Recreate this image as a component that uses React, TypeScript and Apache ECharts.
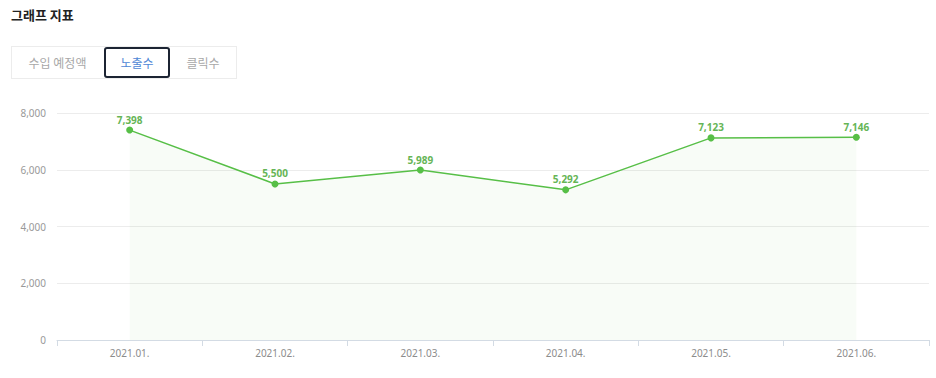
import React, { useEffect, useRef } from "react";
import * as echarts from "echarts";

const categories = ["2021.01.", "2021.02.", "2021.03.", "2021.04.", "2021.05.", "2021.06."];
const impressions = [7398, 5500, 5989, 5292, 7123, 7146];
const yTicks = { min: 0, max: 8000, interval: 2000 };
const tabs = ["수입 예정액", "노출수", "클릭수"];
const activeTab = 1;

const FONT = "'Noto Sans CJK KR', 'Noto Sans', sans-serif";

export default function App() {
  const ref = useRef<HTMLDivElement>(null);
  useEffect(() => {
    if (!ref.current) return;
    const chart = echarts.init(ref.current, undefined, { renderer: "svg" });
    chart.setOption({
      animation: false,
      textStyle: { fontFamily: FONT },
      grid: { left: 57, right: 7, top: 113, bottom: 38, containLabel: false },
      xAxis: {
        type: "category",
        data: categories,
        boundaryGap: true,
        axisLine: { lineStyle: { color: "#d3dbe4", width: 1 } },
        axisTick: { show: true, length: 6, lineStyle: { color: "#d3dbe4" } },
        axisLabel: { color: "#8c8c8c", fontSize: 10, margin: 8, fontFamily: "'Noto Sans', sans-serif" },
      },
      yAxis: {
        type: "value",
        min: yTicks.min,
        max: yTicks.max,
        interval: yTicks.interval,
        axisLine: { show: false },
        axisTick: { show: false },
        splitLine: { lineStyle: { color: "#ececec" } },
        axisLabel: {
          color: "#999999",
          fontSize: 10,
          margin: 11,
          fontFamily: "'Noto Sans', sans-serif",
          formatter: (v: number) => v.toLocaleString("en-US"),
        },
      },
      series: [
        {
          type: "line",
          data: impressions,
          symbol: "circle",
          symbolSize: 7,
          itemStyle: { color: "#57bf47" },
          lineStyle: { color: "#57bf47", width: 1.5 },
          areaStyle: { color: "rgba(87,191,71,0.06)" },
          label: {
            show: true,
            position: "top",
            distance: 2,
            color: "#66b556",
            fontSize: 10,
            fontWeight: "bold",
            fontFamily: "'Noto Sans', sans-serif",
            formatter: (p: any) => Number(p.value).toLocaleString("en-US"),
          },
        },
      ],
    });
    return () => chart.dispose();
  }, []);

  return (
    <div style={{ position: "absolute", left: 0, top: 0, width: 936, height: 378, background: "#fff", fontFamily: FONT }}>
      <div style={{ position: "absolute", left: 11, top: 5, fontSize: 13, fontWeight: 700, color: "#222", lineHeight: "20px" }}>
        그래프 지표
      </div>
      <div
        style={{
          position: "absolute",
          left: 11,
          top: 46,
          width: 226,
          height: 33,
          border: "1px solid #ececec",
          boxSizing: "border-box",
        }}
      />
      {tabs.map((t, i) => {
        const lefts = [11, 104, 170];
        const widths = [93, 66, 66];
        const active = i === activeTab;
        return (
          <div
            key={t}
            style={{
              position: "absolute",
              left: lefts[i],
              top: active ? 47 : 46,
              width: widths[i],
              height: active ? 31 : 33,
              boxSizing: "border-box",
              border: active ? "2px solid #1c2433" : "none",
              borderRadius: active ? 3 : 0,
              color: active ? "#4f87d6" : "#a8a8a8",
              fontSize: 12,
              display: "flex",
              alignItems: "center",
              justifyContent: "center",
            }}
          >
            {t}
          </div>
        );
      })}
      <div ref={ref} style={{ position: "absolute", left: 0, top: 0, width: 936, height: 378 }} />
    </div>
  );
}
